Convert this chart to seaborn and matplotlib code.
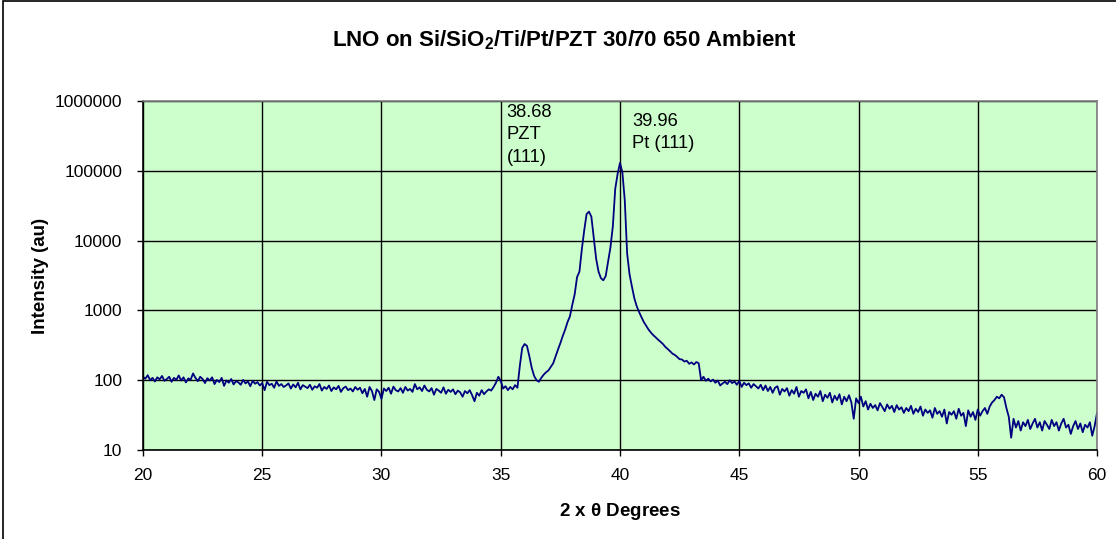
import numpy as np
import pandas as pd
import matplotlib
matplotlib.use("Agg")
import matplotlib.pyplot as plt
import seaborn as sns
from matplotlib.patches import Rectangle
from matplotlib.ticker import FixedLocator, FixedFormatter, NullLocator

# scan grid: 20 -> 60 deg, step 0.1
two_theta = np.round(np.arange(20.0, 60.0001, 0.1), 1)

# counts, 10 values per degree
counts_20_30 = [
    112, 105, 118, 100, 108, 96, 110, 103, 115, 98,
    104, 112, 95, 108, 101, 117, 99, 110, 93, 106,
    102, 125, 108, 97, 112, 104, 91, 107, 99, 110,
    88, 101, 94, 108, 83, 99, 92, 104, 87, 97,
    93, 86, 101, 90, 96, 82, 98, 89, 94, 84,
    91, 72, 95, 85, 89, 78, 96, 83, 88, 80,
    84, 90, 76, 87, 79, 92, 74, 85, 81, 77,
    86, 73, 82, 78, 88, 71, 80, 75, 84, 70,
    79, 74, 83, 68, 77, 81, 72, 76, 69, 80,
    73, 78, 65, 75, 58, 80, 70, 52, 74, 68,
]
counts_30_36 = [
    54, 76, 70, 78, 64, 81, 72, 69, 77, 66,
    80, 71, 75, 68, 88, 74, 79, 70, 84, 73,
    69, 77, 62, 75, 71, 66, 79, 64, 73, 68,
    74, 63, 71, 67, 58, 70, 65, 72, 61, 50,
    66, 60, 72, 63, 69, 74, 71, 80, 92, 112,
    98, 76, 82, 72, 80, 74, 85, 78, 160, 290,
]
counts_36_44 = [
    330, 310, 220, 150, 115, 100, 95, 108, 120, 130,
    138, 155, 175, 220, 275, 340, 430, 530, 680, 820,
    1200, 1700, 3000, 3600, 7500, 14000, 24000, 26000, 22000, 11000,
    5500, 3600, 2900, 2700, 3100, 5000, 8000, 16000, 55000, 90000,
    130000, 95000, 38000, 6500, 3300, 2200, 1500, 1150, 950, 800,
    680, 600, 530, 480, 440, 410, 380, 355, 330, 300,
    280, 260, 240, 230, 215, 200, 198, 185, 190, 172,
    180, 168, 182, 175, 100, 112, 98, 105, 96, 102,
]
counts_44_52 = [
    92, 99, 84, 90, 95, 88, 100, 91, 96, 86,
    98, 80, 92, 85, 90, 78, 88, 82, 76, 86,
    72, 84, 70, 80, 66, 78, 82, 62, 75, 69,
    77, 60, 72, 64, 80, 58, 70, 66, 74, 55,
    68, 52, 64, 58, 70, 50, 62, 56, 66, 48,
    60, 52, 63, 45, 58, 50, 61, 48, 28, 55,
    47, 58, 42, 50, 38, 46, 40, 44, 37, 47,
    41, 36, 45, 39, 43, 35, 44, 38, 41, 34,
]
counts_52_60 = [
    40, 36, 43, 33, 39, 35, 42, 31, 38, 34,
    37, 29, 40, 33, 36, 30, 38, 24, 35, 32,
    36, 28, 39, 31, 34, 22, 37, 30, 35, 27,
    38, 31, 36, 40, 33, 42, 48, 52, 58, 55,
    62, 57, 40, 30, 15, 28, 21, 26, 19, 25,
    22, 27, 20, 24, 28, 21, 25, 19, 26, 23,
    20, 27, 22, 25, 19, 24, 28, 21, 23, 17,
    22, 26, 20, 24, 18, 23, 21, 25, 16, 22,
    34,
]
counts = counts_20_30 + counts_30_36 + counts_36_44 + counts_44_52 + counts_52_60

df = pd.DataFrame({"two_theta": two_theta, "counts": counts})

x_ticks = [20, 25, 30, 35, 40, 45, 50, 55, 60]
y_ticks = [10, 100, 1000, 10000, 100000, 1000000]
y_labels = ["10", "100", "1000", "10000", "100000", "1000000"]

plt.rcParams["font.family"] = ["Liberation Sans", "DejaVu Sans"]
plt.rcParams["mathtext.default"] = "regular"

fig = plt.figure(figsize=(11.16, 5.39), dpi=100)
ax = fig.add_axes([0.1281, 0.1651, 0.8549, 0.6475])
ax.set_facecolor("#CCFFCC")

sns.lineplot(data=df, x="two_theta", y="counts", color="#000080",
             linewidth=1.3, ax=ax)

ax.set_yscale("log")
ax.set_xlim(20, 60)
ax.set_ylim(10, 1000000)
ax.xaxis.set_major_locator(FixedLocator(x_ticks))
ax.yaxis.set_major_locator(FixedLocator(y_ticks))
ax.yaxis.set_major_formatter(FixedFormatter(y_labels))
ax.yaxis.set_minor_locator(NullLocator())
ax.tick_params(axis="both", labelsize=12.5, length=4, width=1, direction="out",
               color="black")
ax.tick_params(axis="y", pad=11)
ax.tick_params(axis="x", pad=9)
ax.grid(True, color="black", linewidth=1)

for side in ["top", "right"]:
    ax.spines[side].set_color("#808080")
    ax.spines[side].set_linewidth(1.2)
for side in ["left", "bottom"]:
    ax.spines[side].set_color("black")
    ax.spines[side].set_linewidth(1.2)

ax.set_xlabel(r"2 x $\theta$ Degrees", fontsize=13.5, fontweight="bold", labelpad=13)
ax.set_ylabel("Intensity (au)", fontsize=13.5, fontweight="bold", labelpad=4)

fig.suptitle("LNO on Si/SiO$_2$/Ti/Pt/PZT 30/70 650 Ambient", x=0.506, y=0.926,
             fontsize=16, fontweight="bold", va="center")

ax.text(35.25, 900000, "38.68\nPZT\n(111)", fontsize=13.2, va="top", ha="left",
        linespacing=1.4)
ax.text(40.5, 680000, "39.96\nPt (111)", fontsize=13.2, va="top", ha="left",
        linespacing=1.4)

# outer chart frame
fig.patches.append(Rectangle((0.0027, -0.1), 1.2, 1.098, transform=fig.transFigure,
                             fill=False, edgecolor="black", linewidth=1.2))

fig.savefig("out.png", dpi=100)
